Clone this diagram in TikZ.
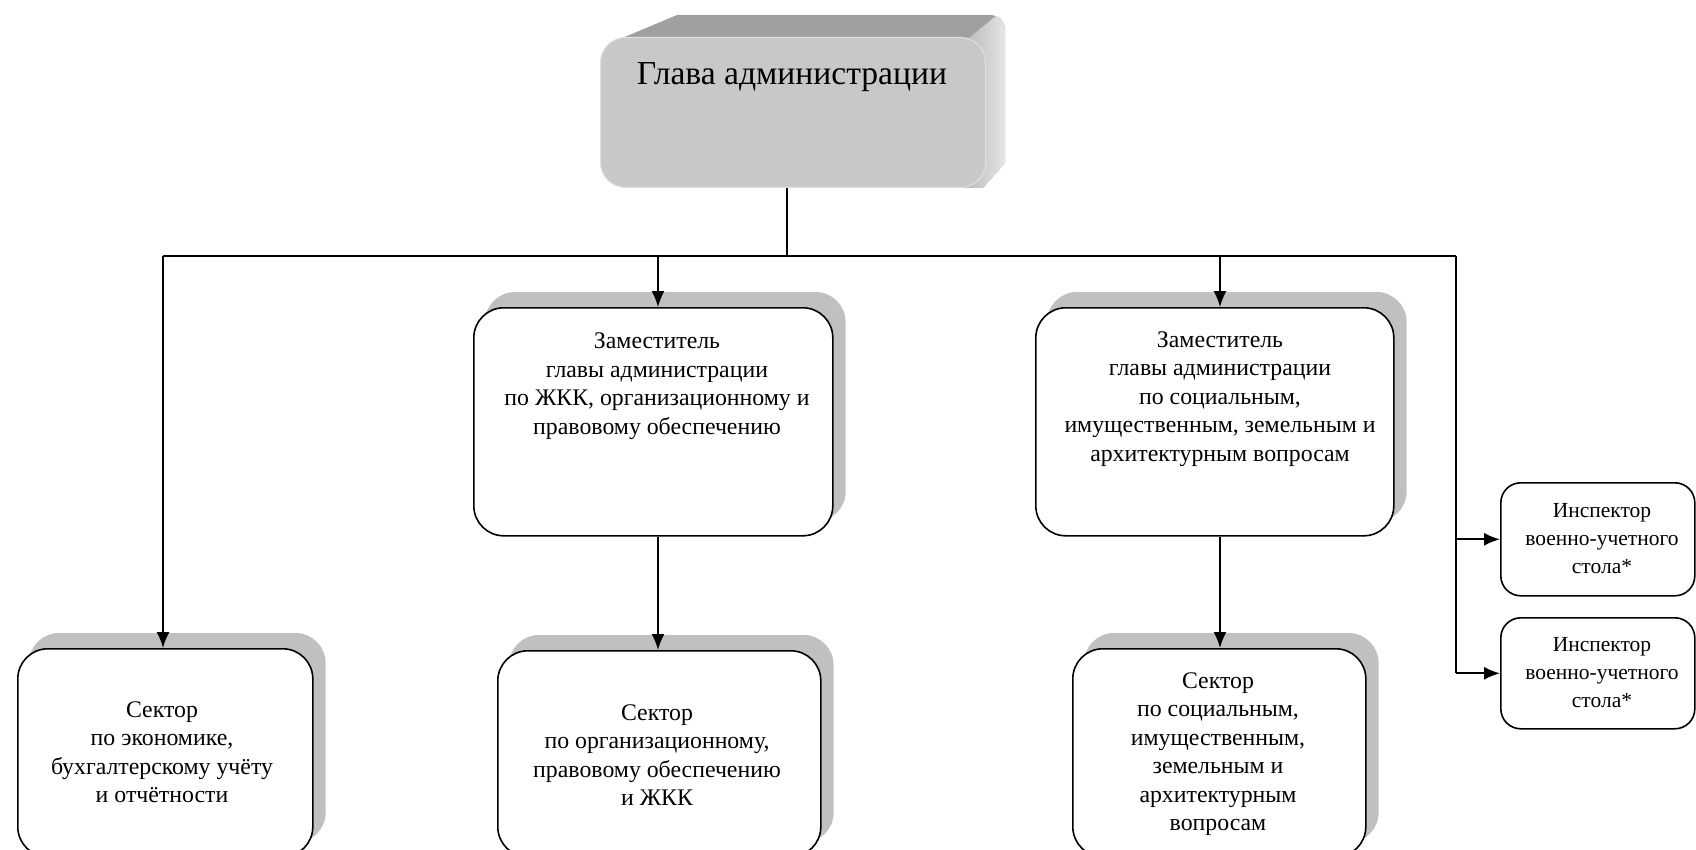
\documentclass[tikz,border=0pt]{standalone}
\usepackage{fontspec}
\setmainfont{Liberation Serif}
\usetikzlibrary{arrows.meta,backgrounds}
\definecolor{shadowgray}{HTML}{C0C0C0}
\definecolor{frontgray}{HTML}{C8C8C8}
\definecolor{topgray}{HTML}{A0A0A0}
\begin{document}
\begin{tikzpicture}[x=1pt,y=-1pt,
  box/.style={draw=black, line width=1.6pt, fill=white, rounded corners=30pt, inner sep=0pt},
  smallbox/.style={box, rounded corners=20pt},
  shadowfill/.style={fill=shadowgray, rounded corners=30pt},
  txt/.style={align=center, font=\fontsize{23.8}{28.5}\selectfont, inner sep=0pt},
  smalltxt/.style={align=center, font=\fontsize{21.5}{28}\selectfont, inner sep=0pt},
  conn/.style={line width=1.7pt, draw=black},
  arr/.style={conn, -{Latex[length=16pt,width=13pt]}},
]
\useasboundingbox (0,0) rectangle (1696,850);
\clip (0,0) rectangle (1696,850);

% head (3D box)
\fill[topgray] (608,44) -- (677,15) -- (990,15) to[out=0,in=90] (1005,30) -- (1005,163) -- (983,188) -- (900,188) -- (900,42) -- cycle;
\shade[left color=frontgray!90!black, right color=white!90!black] (960,45) -- (996,16) to[out=0,in=100] (1005,30) -- (1005,163) -- (983,188) -- (960,188) -- cycle;
\node[fill=frontgray, draw=white!88!black, line width=1pt, rounded corners=25pt, anchor=north west, minimum width=385pt, minimum height=150pt] (head) at (600,37) {};
\node[font=\fontsize{33.6}{38}\selectfont, inner sep=0pt] (headt) at (792,77) {Глава администрации};

% boxes
\node[box, anchor=north west, minimum width=359pt, minimum height=228pt] (d1) at (473,307) {};
\node[box, anchor=north west, minimum width=358pt, minimum height=228pt] (d2) at (1035,307) {};
\node[box, anchor=north west, minimum width=295pt, minimum height=208pt] (s1) at (17,648) {};
\node[box, anchor=north west, minimum width=323pt, minimum height=206pt] (s2) at (497,650) {};
\node[box, anchor=north west, minimum width=293pt, minimum height=208pt] (s3) at (1072,648) {};
\node[smallbox, anchor=north west, minimum width=194pt, minimum height=113pt] (i1) at (1500,482) {};
\node[smallbox, anchor=north west, minimum width=194pt, minimum height=111pt] (i2) at (1500,617) {};

% shadows
\begin{scope}[on background layer]
\foreach \b in {d1,d2,s1,s2,s3}{
  \fill[shadowfill] ([shift={(12,-15)}]\b.south west) rectangle ([shift={(12,-15)}]\b.north east);
}
\end{scope}

% texts
\node[txt] (d1t) at (657,386) {Заместитель\\главы администрации\\по ЖКК, организационному и\\правовому обеспечению};
\node[txt] (d2t) at (1220,399) {Заместитель\\главы администрации\\по социальным,\\имущественным, земельным и\\архитектурным вопросам};
\node[txt] (s1t) at (162,752) {Сектор\\по экономике,\\бухгалтерскому учёту\\и отчётности};
\node[txt] (s2t) at (657,755) {Сектор\\по организационному,\\правовому обеспечению\\и ЖКК};
\node[txt] (s3t) at (1218,754) {Сектор\\по социальным,\\имущественным,\\земельным и\\архитектурным\\вопросам};
\node[smalltxt] (i1t) at (1602,539) {Инспектор\\военно-учетного\\стола*};
\node[smalltxt] (i2t) at (1602,673) {Инспектор\\военно-учетного\\стола*};

% connectors
\coordinate (bl) at (163,256);
\coordinate (br) at (1456,256);
\coordinate (c1) at (658,256);
\coordinate (c2) at (1220,256);
\coordinate (hc) at (787,256);
\draw[conn] (hc |- head.south) -- (hc);
\draw[conn] (bl) -- (br);
\draw[arr] (bl) -- (bl |- s1.north);
\draw[arr] (c1) -- (c1 |- d1.north);
\draw[arr] (c2) -- (c2 |- d2.north);
\draw[arr] (c1 |- d1.south) -- (c1 |- s2.north);
\draw[arr] (c2 |- d2.south) -- (c2 |- s3.north);
\draw[conn] (br) -- (br |- i2.west);
\draw[arr] (br |- i1.west) -- (i1.west);
\draw[arr] (br |- i2.west) -- (i2.west);
\end{tikzpicture}
\end{document}
